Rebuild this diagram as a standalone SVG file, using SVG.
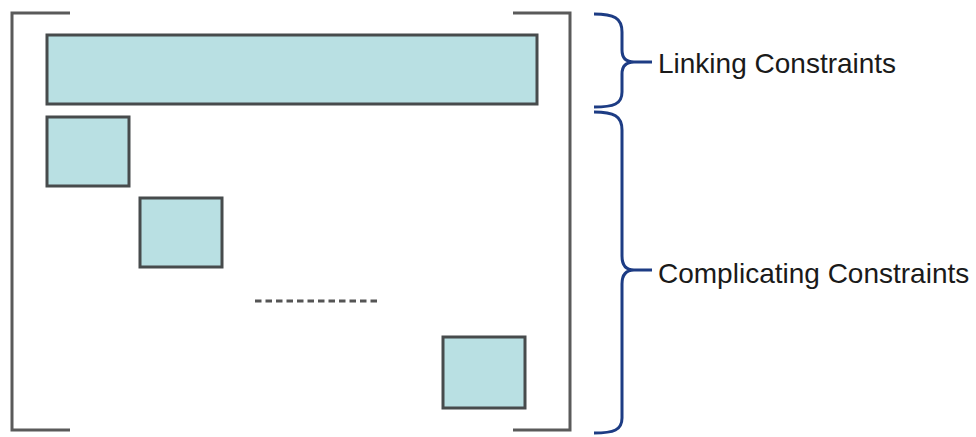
<svg xmlns="http://www.w3.org/2000/svg" width="976" height="437" viewBox="0 0 976 437">
<style>
.box{fill:#b9e0e3;stroke:#474b4c;stroke-width:3}
.brk{fill:none;stroke:#5a5a5a;stroke-width:3}
.brace{fill:none;stroke:#1d3c84;stroke-width:3}
.lbl{font-family:"Liberation Sans",Arial,sans-serif;font-size:28px;fill:#1a1a1a}
</style>
<rect width="976" height="437" fill="#ffffff"/>
<g id="matrix-bracket-left"><path class="brk" d="M70,13 H12 V430 H70"/></g>
<g id="matrix-bracket-right"><path class="brk" d="M513,13 H570 V430 H513"/></g>
<g id="linking-block"><rect class="box" x="47" y="35" width="490" height="69"/></g>
<g id="block-1"><rect class="box" x="47" y="117" width="82" height="69"/></g>
<g id="block-2"><rect class="box" x="140" y="198" width="82" height="69"/></g>
<g id="ellipsis"><line x1="255" y1="301" x2="381" y2="301" stroke="#555" stroke-width="3" stroke-dasharray="6.5,4"/></g>
<g id="block-n"><rect class="box" x="443" y="337" width="82" height="71"/></g>
<g id="connectors">
<path class="brace" d="M594,14 C614,14 622,18 622,32 L622,50 C622,58 626,62 634,62 L652,62 M634,62 C626,62 622,66 622,74 L622,92 C622,104 614,107 594,107"/>
<path class="brace" d="M594,112 C614,112 622,116 622,130 L622,256 C622,265 626,270 634,270 L652,270 M634,270 C626,270 622,275 622,284 L622,418 C622,430 614,433 594,433"/>
</g>
<g id="label-linking"><text class="lbl" x="658" y="73">Linking Constraints</text></g>
<g id="label-complicating"><text class="lbl" x="658" y="283">Complicating Constraints</text></g>
</svg>
